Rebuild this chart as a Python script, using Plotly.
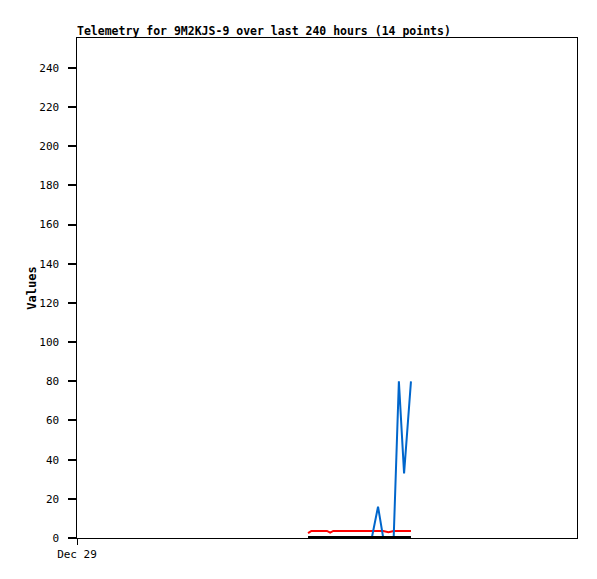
from datetime import datetime, timedelta

import plotly.graph_objects as go

start = datetime(2023, 12, 29)
end = start + timedelta(hours=240)

# hours after Dec 29 00:00 for each of the 14 telemetry samples
hours = [110.9, 112.5, 120.0, 121.5, 123.0, 136.0, 141.5, 144.5, 147.0,
         149.5, 152.0, 154.5, 157.0, 160.3]
red_vals = [2.5, 3.6, 3.6, 2.8, 3.6, 3.6, 3.6, 3.6, 3.6, 3.0, 3.6, 3.6, 3.6, 3.6]
blue_vals = [0, 0, 0, 0, 0, 0, 0, 16, 0, 0, 0, 80, 33, 80]
black_vals = [0.5] * 14
y_ticks = list(range(0, 241, 20))
y_labels = [f"{v}\u2002" for v in y_ticks]

times = [start + timedelta(hours=h) for h in hours]
mono = "DejaVu Sans Mono"

fig = go.Figure()
for vals, color in [(red_vals, "#ff0000"), (blue_vals, "#0066cc"), (black_vals, "#000000")]:
    fig.add_trace(
        go.Scatter(
            x=times, y=vals, mode="lines",
            line=dict(color=color, width=2), showlegend=False,
        )
    )

# the page body adds an 8px offset, so margins are shifted to compensate
fig.update_layout(
    width=597,
    height=579,
    margin=dict(l=69, r=28, t=30, b=49),
    plot_bgcolor="white",
    paper_bgcolor="white",
    font=dict(family=mono, size=11, color="black"),
    title=dict(
        text="<b>Telemetry for 9M2KJS-9 over last 240 hours (14 points)</b>",
        x=69 / 597, xanchor="left", y=1 - 23 / 579, yanchor="middle",
        font=dict(family=mono, size=11.5, color="black"),
    ),
)
fig.update_xaxes(
    type="date",
    range=[start, end],
    tickvals=[start],
    ticktext=["Dec 29"],
    ticks="outside",
    ticklen=6,
    tickcolor="black",
    showgrid=False,
    zeroline=False,
    showline=True,
    linecolor="black",
    linewidth=1,
    mirror=True,
    automargin=False,
)
fig.update_yaxes(
    range=[0, 255.3],
    tickvals=y_ticks,
    ticktext=y_labels,
    ticks="outside",
    ticklen=8,
    tickcolor="#000000",
    tickwidth=1.5,
    showgrid=False,
    zeroline=False,
    showline=True,
    linecolor="black",
    linewidth=1,
    mirror=True,
    automargin=False,
    title=dict(text="<b>Values</b>", font=dict(family=mono, size=12), standoff=0),
)

fig.write_html("out.html")
